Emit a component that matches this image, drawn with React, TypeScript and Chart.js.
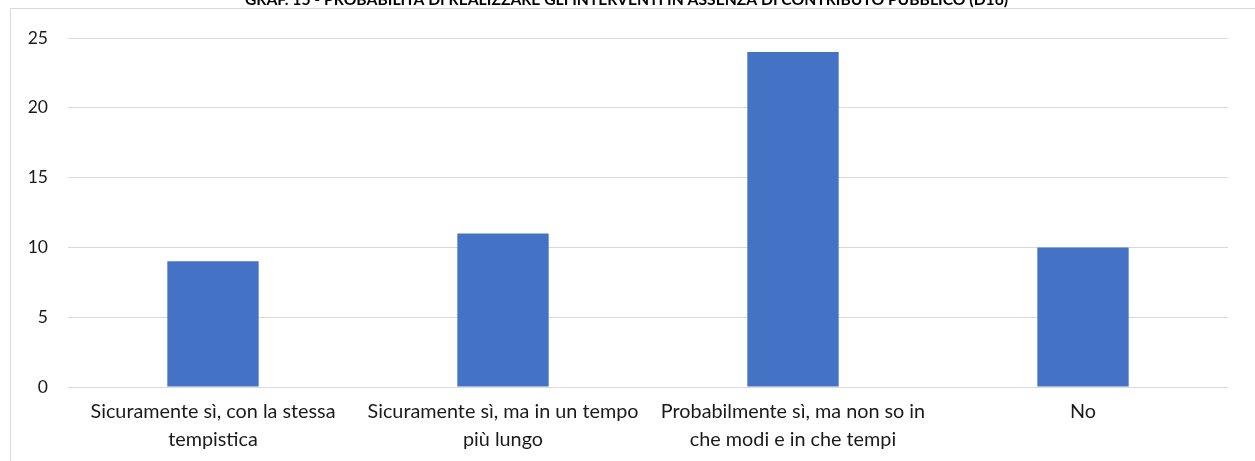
import React, { useEffect, useRef } from "react";
import { Chart, registerables } from "chart.js";

Chart.register(...registerables);

const titleText = "GRAF. 15 - PROBABILITÀ DI REALIZZARE GLI INTERVENTI IN ASSENZA DI CONTRIBUTO PUBBLICO (D16)";
const categories: (string | string[])[] = [
  ["Sicuramente sì, con la stessa", "tempistica"],
  ["Sicuramente sì, ma in un tempo", "più lungo"],
  ["Probabilmente sì, ma non so in", "che modi e in che tempi"],
  "No",
];
const values = [9, 11, 24, 10];
const yTicks = [0, 5, 10, 15, 20, 25];

export default function App() {
  const ref = useRef<HTMLCanvasElement | null>(null);
  useEffect(() => {
    if (!ref.current) return;
    const chart = new Chart(ref.current, {
      type: "bar",
      data: {
        labels: categories,
        datasets: [
          {
            data: values,
            backgroundColor: "#4472C4",
            borderWidth: 0,
            barPercentage: 0.315,
            categoryPercentage: 1,
          },
        ],
      },
      options: {
        animation: false,
        responsive: false,
        maintainAspectRatio: false,
        layout: { padding: { left: 25, right: 27, top: 0, bottom: 7 } },
        plugins: {
          legend: { display: false },
          tooltip: { enabled: false },
          title: {
            display: true,
            text: titleText,
            color: "#000000",
            font: { family: "Lato", size: 15.7, weight: "bold", lineHeight: 1.2 },
            padding: { top: 10.6, bottom: 28.56 },
          },
        },
        scales: {
          x: {
            grid: { display: false, drawTicks: false },
            border: { display: false },
            ticks: {
              color: "#1a1a1a",
              font: { family: "Lato", size: 19.8, lineHeight: 28 / 19.8 },
              padding: 11,
              maxRotation: 0,
              autoSkip: false,
            },
            afterFit: (s: any) => {
              s.height = 67;
            },
          },
          y: {
            min: 0,
            max: 25,
            afterBuildTicks: (s: any) => {
              s.ticks = yTicks.map((v) => ({ value: v }));
            },
            grid: { color: "#D9D9D9", lineWidth: 1, drawTicks: false },
            border: { display: false },
            ticks: {
              color: "#1a1a1a",
              font: { family: "Lato", size: 17.5 },
              padding: 20,
            },
            afterFit: (s: any) => {
              s.width = 43;
            },
          },
        },
      },
    });
    return () => chart.destroy();
  }, []);

  return (
    <div
      style={{
        position: "fixed",
        left: 0,
        top: 0,
        width: 1255,
        height: 461,
        overflow: "hidden",
        background: "#ffffff",
      }}
    >
      <div
        style={{
          position: "absolute",
          left: 10,
          top: 8,
          width: 1300,
          height: 600,
          border: "1px solid #D9D9D9",
          boxSizing: "border-box",
        }}
      />
      <canvas
        ref={ref}
        width={1255}
        height={481}
        style={{ position: "absolute", left: 0, top: -20, width: 1255, height: 481 }}
      />
    </div>
  );
}
